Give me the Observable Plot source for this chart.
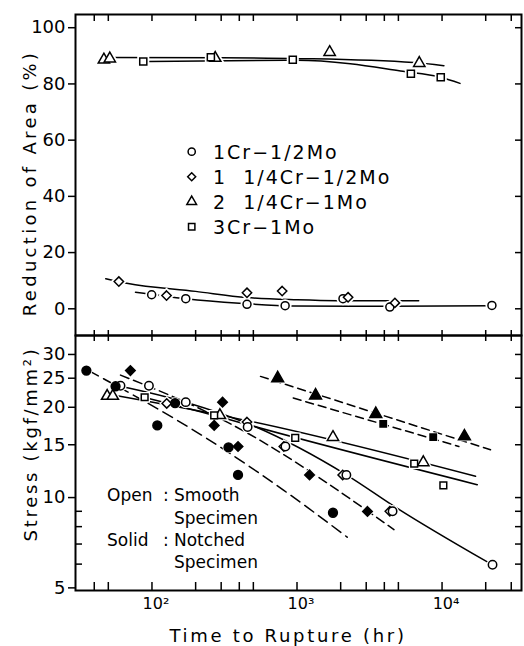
<!DOCTYPE html>
<html><head><meta charset="utf-8">
<script src="https://cdn.jsdelivr.net/npm/d3@7"></script>
<script src="https://cdn.jsdelivr.net/npm/@observablehq/plot@0.6"></script>
<style>
body{margin:0;background:#fff;}
#wrap{position:relative;width:524px;height:646px;font-family:"DejaVu Sans",sans-serif;color:#000;}
#wrap > svg{position:absolute;left:0;}
</style></head><body><div id="wrap"></div>
<script>
// ---------- axis / tick data ----------
const xDomain = [29.7, 35300];
const xTicks = [40,50,100,200,300,400,500,1000,2000,3000,4000,5000,10000,20000,30000];
const xLabelTicks = [100,1000,10000];
const xTickLabels = ["10²","10³","10⁴"];
const raDomain = [-9.5, 104.7];
const raTicks = [0,20,40,60,80,100];
const stressDomain = [4.9, 34.7];
const stressTicks = [5,10,15,20,25,30];
const stressMinorTicks = [6,7,8,9];
const stressRightTicks = [6,7,8,9,10,15,20,25,30];

const legendLabels = ["1Cr\u22121/2Mo","1\u00a0\u00a01/4Cr\u22121/2Mo","2\u00a0\u00a01/4Cr\u22121Mo","3Cr\u22121Mo"];
const legendSymbols = ["circle","diamond2","triangle","square"];

// ---------- top panel: reduction of area (%) ----------
const ra1CrT = [99.5,171,452,828,2075,4365,22070];
const ra1CrV = [5.0,3.6,1.6,1.1,3.6,0.6,1.2];
const ra114CrT = [59.1,126,452,790,2250,4730];
const ra114CrV = [9.7,4.7,5.7,6.3,4.1,2.1];
const ra214CrT = [46.6,51.2,273,1679,6966];
const ra214CrV = [88.6,89.0,89.2,91.3,87.4];
const ra3CrT = [87.1,254.7,935,6096,9795];
const ra3CrV = [88.0,89.5,88.6,83.6,82.4];
// fitted curves
const raFit1CrT = [77,171,400,935,4400,22000];
const raFit1CrV = [5.9,3.6,2.0,1.0,0.9,1.1];
const raFit114CrT = [48,67,200,450,1000,1900,6900];
const raFit114CrV = [10.7,9.1,6.2,4.0,3.2,2.9,2.9];
const raFit214CrT = [50,300,1057,6350,10300];
const raFit214CrV = [89.4,89.3,89.0,87.6,86.5];
const raFit3CrT = [95,1000,2330,5170,9800,13300];
const raFit3CrV = [88.0,88.4,87.2,84.6,82.4,80.2];

// ---------- bottom panel: stress (kgf/mm2) ----------
// smooth (open)
const sm1CrT = [60.7,95.3,171,456.6,832,2190,4560,22290];
const sm1CrS = [23.6,23.6,20.8,17.2,14.8,11.9,9.0,5.97];
const sm114CrT = [126.4,452,811,2065,4365];
const sm114CrS = [20.6,17.85,14.8,11.9,9.0];
const sm214CrT = [49.1,53.7,294,1770,7426];
const sm214CrS = [21.8,21.8,18.8,15.9,13.1];
const sm3CrT = [89,268.5,972,6430,10210];
const sm3CrS = [21.6,18.8,15.8,12.97,10.98];
// notched (solid)
const no1CrT = [35.3,56.1,108.8,144.3,337,392,1770];
const no1CrS = [26.5,23.5,17.4,20.65,14.7,11.9,8.9];
const no114CrT = [71,306.6,268.5,392,1220,3061];
const no114CrS = [26.5,20.8,17.4,14.8,11.9,8.99];
const no214CrT = [736,1343,3493,14270];
const no214CrS = [25.0,21.9,19.0,16.0];
const no3CrT = [3930,8690];
const no3CrS = [17.6,15.9];
// fitted lines
const fitSm1CrT = [60.7,171,491,2218,4855,20500];
const fitSm1CrS = [23.5,20.8,17.4,11.86,9.24,6.1];
const fitSm214CrT = [58.8,300,478,17020];
const fitSm214CrS = [21.8,18.8,17.95,11.77];
const fitSm3CrT = [85,268.5,478,17500];
const fitSm3CrS = [21.7,18.8,17.4,11.04];
const fitNo1CrT = [36.6,241,811,2218];
const fitNo1CrS = [26.5,15.7,10.57,7.38];
const fitNo114CrT = [60.7,330,4660];
const fitNo114CrS = [25.6,17.85,7.82];
const fitNo214CrT = [560,21580];
const fitNo214CrS = [25.35,14.44];
const fitNo3CrT = [942,13060];
const fitNo3CrS = [21.47,14.81];

// ---------- helpers ----------
const rows = (T, V) => T.map((t, i) => ({t, v: V[i]}));
const fitLine = (T, V, dash) => Plot.line(rows(T, V), {x: "t", y: "v", stroke: "black", strokeWidth: 1.5, curve: "monotone-x", strokeDasharray: dash});
const halo = (T, V, symbol, r, w) => Plot.dot(rows(T, V), {x: "t", y: "v", symbol, r, fill: "white", stroke: "white", strokeWidth: w});
const marker = (T, V, symbol, r, filled) => Plot.dot(rows(T, V), {x: "t", y: "v", symbol, r, fill: filled ? "black" : "white", stroke: "black", strokeWidth: 1.5});
const noText = () => "";
const style = {fontFamily: "DejaVu Sans", fontSize: "17px", color: "black", background: "transparent", overflow: "visible"};

const wrap = document.getElementById("wrap");

// ---------- top plot ----------
const topPlot = Plot.plot({
  width: 524, height: 335, marginTop: 14, marginBottom: 0, marginLeft: 75, marginRight: 3,
  style,
  x: {type: "log", domain: xDomain, axis: null},
  y: {domain: raDomain, axis: null},
  marks: [
    fitLine(raFit1CrT, raFit1CrV),
    fitLine(raFit114CrT, raFit114CrV),
    fitLine(raFit214CrT, raFit214CrV),
    fitLine(raFit3CrT, raFit3CrV),
    halo(ra1CrT, ra1CrV, "circle", 4, 5),
    halo(ra114CrT, ra114CrV, "diamond2", 4.2, 5),
    halo(ra214CrT, ra214CrV, "triangle", 4.2, 5),
    halo(ra3CrT, ra3CrV, "square", 4, 5),
    marker(ra1CrT, ra1CrV, "circle", 4, false),
    marker(ra114CrT, ra114CrV, "diamond2", 4.2, false),
    marker(ra214CrT, ra214CrV, "triangle", 4.2, false),
    marker(ra3CrT, ra3CrV, "square", 4, false),
    Plot.frame({stroke: "black", strokeWidth: 2}),
    Plot.axisY({ticks: raTicks, anchor: "left", tickSize: 7, tickPadding: 3, fontSize: 18, label: null, strokeWidth: 1.5}),
    Plot.axisY({ticks: raTicks, anchor: "right", tickSize: -7, tickFormat: noText, label: null, strokeWidth: 1.5}),
    Plot.axisX({ticks: xTicks, anchor: "top", tickSize: -6, tickFormat: noText, label: null, strokeWidth: 1.5}),
    Plot.axisX({ticks: xTicks, anchor: "bottom", tickSize: -5, tickFormat: noText, label: null, strokeWidth: 1.5})
  ]
});
topPlot.style.top = "0px";
wrap.appendChild(topPlot);

// ---------- bottom plot ----------
const botPlot = Plot.plot({
  width: 524, height: 311, marginTop: 0, marginBottom: 56, marginLeft: 75, marginRight: 3,
  style,
  x: {type: "log", domain: xDomain, axis: null},
  y: {type: "log", domain: stressDomain, axis: null},
  marks: [
    fitLine(fitSm1CrT, fitSm1CrS),
    fitLine(fitSm214CrT, fitSm214CrS),
    fitLine(fitSm3CrT, fitSm3CrS),
    fitLine(fitNo1CrT, fitNo1CrS, "11,6"),
    fitLine(fitNo114CrT, fitNo114CrS, "9,5"),
    fitLine(fitNo214CrT, fitNo214CrS, "8,5"),
    fitLine(fitNo3CrT, fitNo3CrS, "8,5"),
    halo(sm1CrT, sm1CrS, "circle", 4.2, 4),
    halo(sm114CrT, sm114CrS, "diamond2", 4.2, 4),
    halo(sm214CrT, sm214CrS, "triangle", 4.2, 4),
    halo(sm3CrT, sm3CrS, "square", 3.8, 4),
    halo(no1CrT, no1CrS, "circle", 4.4, 3),
    halo(no114CrT, no114CrS, "diamond2", 4.3, 3),
    halo(no214CrT, no214CrS, "triangle", 4.4, 3),
    halo(no3CrT, no3CrS, "square", 3.6, 3),
    marker(sm114CrT, sm114CrS, "diamond2", 4.2, false),
    marker(sm1CrT, sm1CrS, "circle", 4.2, false),
    marker(sm214CrT, sm214CrS, "triangle", 4.2, false),
    marker(sm3CrT, sm3CrS, "square", 3.8, false),
    marker(no1CrT, no1CrS, "circle", 4.4, true),
    marker(no114CrT, no114CrS, "diamond2", 4.3, true),
    marker(no214CrT, no214CrS, "triangle", 4.4, true),
    marker(no3CrT, no3CrS, "square", 3.6, true),
    Plot.frame({stroke: "black", strokeWidth: 2}),
    Plot.axisY({ticks: stressTicks, anchor: "left", tickSize: 7, tickPadding: 3, fontSize: 18, label: null, strokeWidth: 1.5}),
    Plot.axisY({ticks: stressMinorTicks, anchor: "left", tickSize: -7, tickFormat: noText, label: null, strokeWidth: 1.5}),
    Plot.axisY({ticks: stressRightTicks, anchor: "right", tickSize: -7, tickFormat: noText, label: null, strokeWidth: 1.5}),
    Plot.axisX({ticks: xTicks, anchor: "top", tickSize: -5, tickFormat: noText, label: null, strokeWidth: 1.5}),
    Plot.axisX({ticks: xTicks, anchor: "bottom", tickSize: -8, tickFormat: noText, label: null, strokeWidth: 1.5}),
    Plot.axisX({ticks: xLabelTicks, anchor: "bottom", tickSize: 0, tickPadding: 7, fontSize: 16, dx: 4,
      tickFormat: d => xTickLabels[xLabelTicks.indexOf(d)], label: null})
  ]
});
botPlot.style.top = "335px";
wrap.appendChild(botPlot);

// ---------- overlay: titles, legend, annotation ----------
const ov = d3.select(wrap).append("svg")
  .attr("width", 524).attr("height", 646)
  .style("top", "0px").style("pointer-events", "none")
  .style("font-family", "'DejaVu Sans', sans-serif");

ov.append("text").attr("transform", "translate(29,183) rotate(-90)")
  .attr("text-anchor", "middle").attr("dominant-baseline", "central")
  .attr("font-size", 18).attr("letter-spacing", 3.3).text("Reduction of Area (%)");
ov.append("text").attr("transform", "translate(30,444) rotate(-90)")
  .attr("text-anchor", "middle").attr("dominant-baseline", "central")
  .attr("font-size", 18).attr("letter-spacing", 2.7).text("Stress (kgf/mm²)");
ov.append("text").attr("x", 288).attr("y", 635)
  .attr("text-anchor", "middle").attr("dominant-baseline", "central")
  .attr("font-size", 18).attr("letter-spacing", 2.7).text("Time to Rupture (hr)");

const symType = {circle: d3.symbolCircle, diamond2: d3.symbolDiamond2, triangle: d3.symbolTriangle, square: d3.symbolSquare};
legendLabels.forEach((lab, i) => {
  const cy = 151.7 + 25 * i;
  ov.append("path").attr("transform", `translate(191.7,${cy})`)
    .attr("d", d3.symbol(symType[legendSymbols[i]], Math.PI * 3.6 * 3.6)())
    .attr("fill", "white").attr("stroke", "black").attr("stroke-width", 1.5);
  ov.append("text").attr("x", 213).attr("y", cy).attr("dominant-baseline", "central")
    .attr("font-size", 19).attr("letter-spacing", 2).text(lab);
});

const notes = [
  ["Open", ":", "Smooth", 495],
  ["", "", "Specimen", 518],
  ["Solid", ":", "Notched", 540],
  ["", "", "Specimen", 562]
];
notes.forEach(([a, c, b, y]) => {
  if (a) ov.append("text").attr("x", 107).attr("y", y).attr("dominant-baseline", "central").attr("font-size", 17).text(a);
  if (c) ov.append("text").attr("x", 163).attr("y", y).attr("dominant-baseline", "central").attr("font-size", 17).text(c);
  ov.append("text").attr("x", 174).attr("y", y).attr("dominant-baseline", "central").attr("font-size", 17).text(b);
});
</script></body></html>
